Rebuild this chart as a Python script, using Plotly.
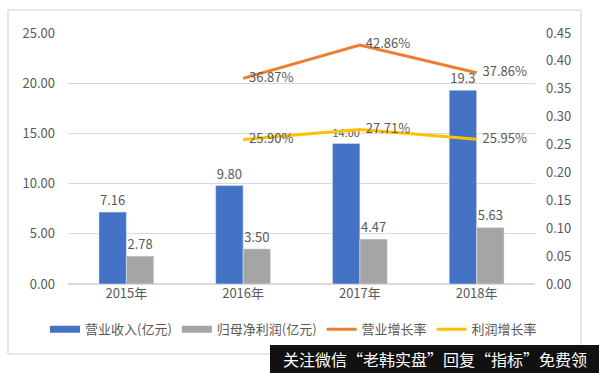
import plotly.graph_objects as go

years = ["2015年", "2016年", "2017年", "2018年"]
revenue = [7.16, 9.80, 14.00, 19.30]
revenue_labels = ["7.16", "9.80", "14.00", "19.3"]
profit = [2.78, 3.50, 4.47, 5.63]
rate_years = ["2016年", "2017年", "2018年"]
rev_growth = [0.3687, 0.4286, 0.3786]
profit_growth = [0.2590, 0.2771, 0.2595]

FONT = "Noto Sans CJK SC, Microsoft YaHei, sans-serif"
TXT = "#595959"
BLUE, GRAY, ORANGE, YELLOW = "#4472C4", "#A5A5A5", "#ED7D31", "#FFC000"

fig = go.Figure()
fig.add_trace(go.Bar(x=years, y=revenue, name="营业收入(亿元)", marker_color=BLUE,
                     text=revenue_labels, textposition="outside", cliponaxis=False,
                     textfont=dict(size=13, color=TXT), showlegend=False))
fig.add_trace(go.Bar(x=years, y=profit, name="归母净利润(亿元)", marker_color=GRAY,
                     text=[f"{v:.2f}" for v in profit], textposition="outside", cliponaxis=False,
                     textfont=dict(size=13, color=TXT), showlegend=False))
# legend entries styled as wide rectangles (like the reference)
fig.add_trace(go.Scatter(x=[None], y=[None], mode="lines", name="营业收入(亿元)",
                         line=dict(color=BLUE, width=7), legendrank=1))
fig.add_trace(go.Scatter(x=[None], y=[None], mode="lines", name="归母净利润(亿元)",
                         line=dict(color=GRAY, width=7), legendrank=2))
fig.add_trace(go.Scatter(x=rate_years, y=rev_growth, name="营业增长率", yaxis="y2",
                         mode="lines+text", line=dict(color=ORANGE, width=3), legendrank=3,
                         text=[f"  {v*100:.2f}%" for v in rev_growth], textposition="middle right",
                         textfont=dict(size=13, color=TXT), cliponaxis=False))
fig.add_trace(go.Scatter(x=rate_years, y=profit_growth, name="利润增长率", yaxis="y2",
                         mode="lines+text", line=dict(color=YELLOW, width=3), legendrank=4,
                         text=[f"  {v*100:.2f}%" for v in profit_growth], textposition="middle right",
                         textfont=dict(size=13, color=TXT), cliponaxis=False))

fig.update_layout(
    width=599, height=373,
    margin=dict(l=68, r=64, t=33, b=89, autoexpand=False),
    paper_bgcolor="white", plot_bgcolor="white",
    font=dict(family=FONT, size=13, color=TXT),
    barmode="group", bargap=0.53, bargroupgap=0,
    showlegend=True,
    legend=dict(orientation="h", x=(45-68)/467, xanchor="left", y=-0.18, yanchor="middle",
                font=dict(size=13, color=TXT), itemwidth=30, tracegroupgap=0),
    xaxis=dict(showgrid=False, showline=False, ticks="", tickfont=dict(size=13), automargin=False),
    yaxis=dict(range=[0, 25], dtick=5, tickformat=".2f", showgrid=True, gridcolor="#D9D9D9",
               gridwidth=1, zeroline=True, zerolinecolor="#D9D9D9", showline=False, ticks="",
               ticklabelstandoff=12, automargin=False),
    yaxis2=dict(range=[0, 0.45], dtick=0.05, tickformat=".2f", overlaying="y", side="right",
                showgrid=False, zeroline=False, showline=False, ticks="", ticklabelstandoff=10,
                automargin=False),
    shapes=[dict(type="rect", xref="paper", yref="paper",
                 x0=-60/467, x1=(581-68)/467, y0=(284-354)/251, y1=(284-10)/251,
                 line=dict(color="#CFCFCF", width=1), fillcolor="rgba(0,0,0,0)", layer="above"),
            dict(type="rect", xref="paper", yref="paper",
                 x0=(270-68)/467, x1=(599-68)/467, y0=(284-373)/251, y1=(284-345)/251,
                 line=dict(width=0), fillcolor="#111111", layer="above")],
    annotations=[dict(text="关注微信“老韩实盘”回复“指标”免费领", xref="paper", yref="paper",
                      x=(435-68)/467, y=(284-359)/251, xanchor="center", yanchor="middle",
                      showarrow=False, font=dict(size=16, color="white", family=FONT))],
)

fig.write_html("out.html", config={"displayModeBar": False},
               post_script="document.body.style.margin='0';document.body.style.overflow='hidden';")
